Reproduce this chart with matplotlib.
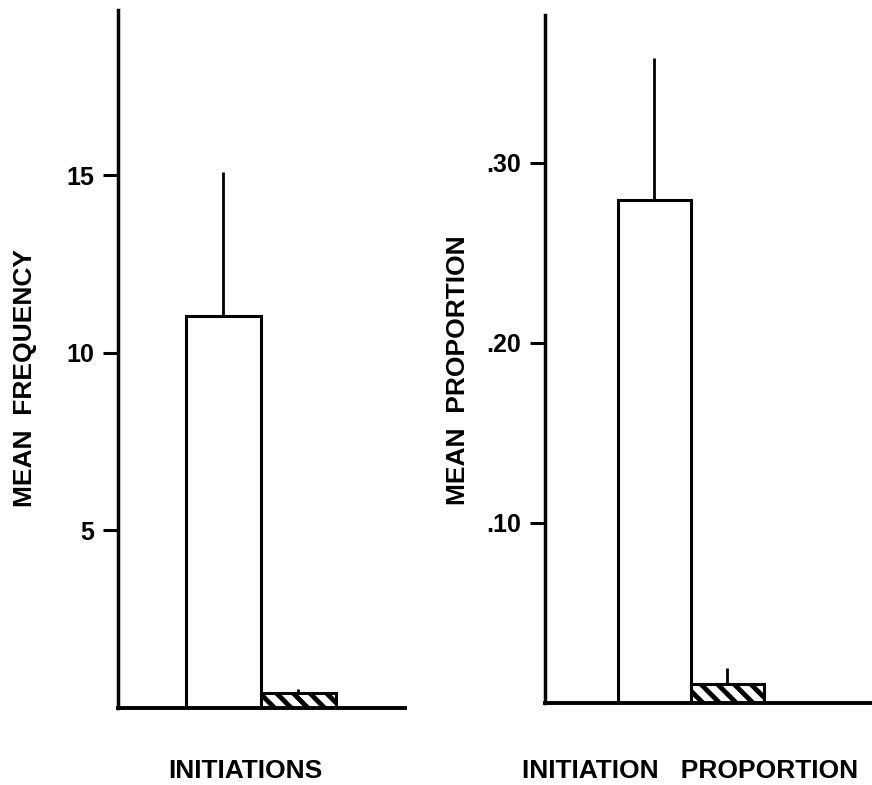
import matplotlib.pyplot as plt
import matplotlib as mpl

# ======================================================
# DATA
# ======================================================

groups = ["A", "B"]

freq_means = [11.05, 0.42]
freq_err = [4.05, 0.12]
freq_ticks = [5, 10, 15]
freq_ticklabels = ["5", "10", "15"]

prop_means = [0.279, 0.0105]
prop_err = [0.079, 0.009]
prop_ticks = [0.10, 0.20, 0.30]
prop_ticklabels = [".10", ".20", ".30"]

# ======================================================
# STYLE
# ======================================================

mpl.rcParams["font.family"] = ["Liberation Sans", "DejaVu Sans"]
mpl.rcParams["font.weight"] = "bold"
mpl.rcParams["hatch.linewidth"] = 3.5
mpl.rcParams["hatch.color"] = "black"

fig = plt.figure(figsize=(8.72, 7.85), dpi=100)

ax1 = fig.add_axes([0.135, 0.098, 0.329, 0.889])
ax2 = fig.add_axes([0.625, 0.1045, 0.375, 0.8765])


def draw_panel(ax, means, errs, ylim, xlim, ticks, ticklabels, ylabel,
               label_xy):
    pos = [0, 1]
    ax.bar(pos[0], means[0], width=1.0, color="white",
           edgecolor="black", linewidth=2.2)
    ax.bar(pos[1], means[1], width=1.0, color="white",
           edgecolor="black", linewidth=2.2, hatch="\\\\")
    for p, m, e in zip(pos, means, errs):
        ax.vlines(p, m, m + e, color="black", linewidth=2.0)

    ax.set_xlim(*xlim)
    ax.set_ylim(*ylim)
    for side in ["top", "right"]:
        ax.spines[side].set_visible(False)
    ax.spines["left"].set_linewidth(2.5)
    ax.spines["bottom"].set_linewidth(2.8)

    ax.set_xticks([])
    ax.set_yticks(ticks)
    ax.set_yticklabels(ticklabels, fontsize=18, fontweight="bold")
    ax.tick_params(axis="y", direction="out", length=11, width=2.2, pad=6)

    ax.set_ylabel(ylabel, fontsize=19, fontweight="bold")
    ax.yaxis.set_label_coords(*label_xy)


draw_panel(ax1, freq_means, freq_err, (0, 19.65), (-1.41, 2.42),
           freq_ticks, freq_ticklabels, "MEAN  FREQUENCY", (-0.282, 0.473))

draw_panel(ax2, prop_means, prop_err, (0, 0.382), (-1.5, 2.98),
           prop_ticks, prop_ticklabels, "MEAN  PROPORTION", (-0.229, 0.484))

# category labels under each panel
fig.text(245 / 872, 1 - 771 / 785, "INITIATIONS", fontsize=19,
         fontweight="bold", ha="center", va="center")
fig.text(690 / 872, 1 - 771 / 785, "INITIATION   PROPORTION", fontsize=19,
         fontweight="bold", ha="center", va="center")

fig.savefig("out.png", dpi=100)
